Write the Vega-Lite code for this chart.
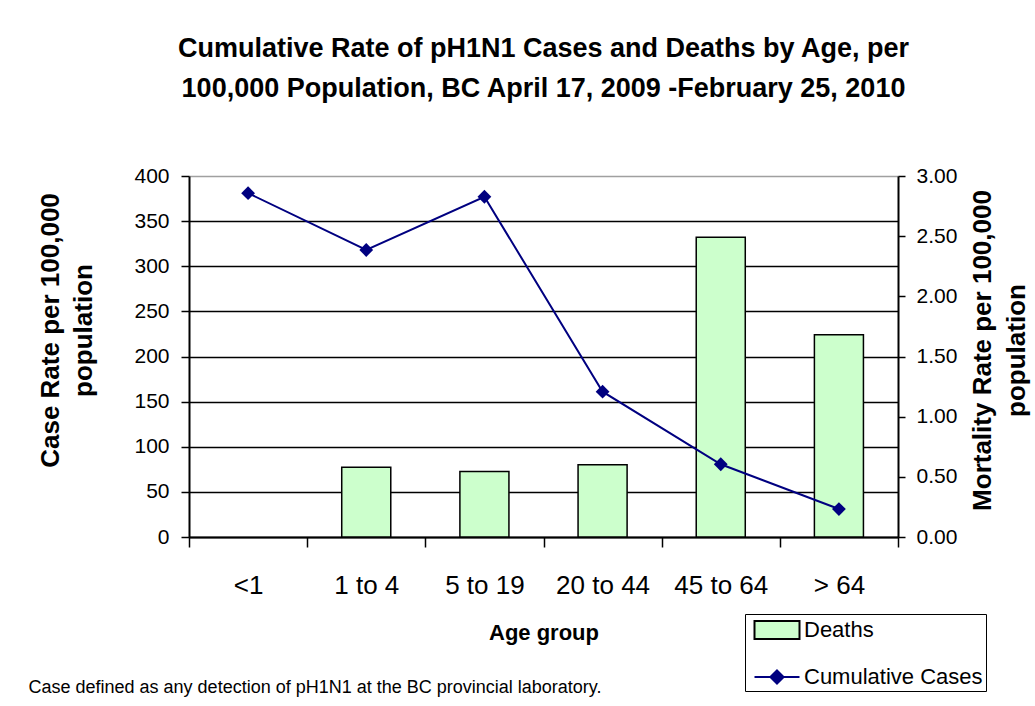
{
  "$schema": "https://vega.github.io/schema/vega-lite/v6.json",
  "width": 709,
  "height": 361,
  "autosize": {"type": "none"},
  "padding": {"left": 189, "top": 176, "right": 137, "bottom": 169},
  "background": "white",
  "title": {
    "text": ["Cumulative Rate of pH1N1 Cases and Deaths by Age, per", "100,000 Population, BC April 17, 2009 -February 25, 2010"],
    "font": "Liberation Sans",
    "fontSize": 27,
    "fontWeight": "bold",
    "lineHeight": 40,
    "color": "black",
    "anchor": "middle",
    "offset": 62
  },
  "data": {
    "values": [
      {"age": "<1", "cases": 381, "deaths": null},
      {"age": "1 to 4", "cases": 318, "deaths": 0.58},
      {"age": "5 to 19", "cases": 377, "deaths": 0.545},
      {"age": "20 to 44", "cases": 161, "deaths": 0.6},
      {"age": "45 to 64", "cases": 80.6, "deaths": 2.49},
      {"age": "> 64", "cases": 31, "deaths": 1.68}
    ]
  },
  "layer": [
    {
      "mark": {"type": "bar", "width": {"band": 0.415}, "fill": "#ccffcc", "stroke": "black", "strokeWidth": 1.5},
      "encoding": {
        "x": {
          "field": "age", "type": "nominal", "sort": null,
          "scale": {"domain": ["<1", "1 to 4", "5 to 19", "20 to 44", "45 to 64", "> 64"], "paddingInner": 0, "paddingOuter": 0},
          "axis": {
            "orient": "bottom", "labelAngle": 0, "labelFontSize": 26, "labelPadding": 25,
            "tickSize": 10, "tickWidth": 1.5, "tickBand": "extent", "domainWidth": 2,
            "title": "Age group", "titleFontSize": 22, "titleFontWeight": "bold",
            "titleY": 95, "titleBaseline": "middle"
          }
        },
        "y": {
          "field": "deaths", "type": "quantitative",
          "scale": {"domain": [0, 3], "nice": false, "zero": true},
          "axis": {
            "orient": "right", "values": [0, 0.5, 1, 1.5, 2, 2.5, 3], "format": ".2f",
            "grid": false, "labelFontSize": 21, "tickSize": 7, "labelPadding": 11, "domainWidth": 2, "tickWidth": 1.5,
            "title": ["Mortality Rate per 100,000", "population"], "titleFontSize": 26, "titleFontWeight": "bold",
            "titleAngle": -90, "titleX": 84, "titleY": 174, "titleBaseline": "middle", "titleAlign": "center", "titleLineHeight": 34
          }
        }
      }
    },
    {
      "mark": {"type": "line", "color": "#000080", "strokeWidth": 2, "point": {"shape": "diamond", "size": 190, "filled": true, "opacity": 1, "color": "#000080"}},
      "encoding": {
        "x": {
          "field": "age", "type": "nominal", "sort": null,
          "axis": {
            "orient": "bottom", "labels": false, "ticks": false, "domain": false, "grid": false,
            "title": "Case defined as any detection of pH1N1 at the BC provincial laboratory.",
            "titleFontSize": 18, "titleFontWeight": "normal", "titleAnchor": "start", "titleAlign": "left",
            "titleX": -161, "titleY": 150, "titleBaseline": "middle"
          }
        },
        "y": {
          "field": "cases", "type": "quantitative",
          "scale": {"domain": [0, 400], "nice": false},
          "axis": {
            "orient": "left", "values": [0, 50, 100, 150, 200, 250, 300, 350, 400],
            "grid": true, "gridColor": {"condition": {"test": "datum.value === 400", "value": "#a0a0a0"}, "value": "black"}, "gridWidth": 1.5,
            "labelFontSize": 21, "tickSize": 8, "labelPadding": 12, "domainWidth": 2, "tickWidth": 1.5,
            "title": ["Case Rate per 100,000", "population"], "titleFontSize": 26, "titleFontWeight": "bold",
            "titleAngle": -90, "titleX": -139, "titleY": 154, "titleBaseline": "middle", "titleAlign": "center", "titleLineHeight": 33
          }
        }
      }
    },
    {
      "mark": {"type": "point", "opacity": 0, "size": 10},
      "encoding": {
        "x": {"field": "age", "type": "nominal", "sort": null, "axis": null},
        "y": {"field": "cases", "type": "quantitative", "scale": {"domain": [0, 400], "nice": false}, "axis": null},
        "fill": {
          "datum": "Deaths", "type": "nominal",
          "scale": {"domain": ["Deaths", "Cumulative Cases"], "range": ["#ccffcc", "#000080"]},
          "legend": {"title": null, "orient": "none", "legendX": 556, "legendY": 438}
        },
        "stroke": {
          "datum": "Deaths", "type": "nominal",
          "scale": {"domain": ["Deaths", "Cumulative Cases"], "range": ["black", "#000080"]},
          "legend": {"title": null, "orient": "none", "legendX": 556, "legendY": 438}
        },
        "shape": {
          "datum": "Deaths", "type": "nominal",
          "scale": {"domain": ["Deaths", "Cumulative Cases"], "range": ["M-1.875,-0.75H1.875V0.75H-1.875Z", "M-1.875,0H1.875M0,-0.55L0.55,0L0,0.55L-0.55,0Z"]},
          "legend": {"title": null, "orient": "none", "legendX": 556, "legendY": 438}
        }
      }
    }
  ],
  "resolve": {"scale": {"y": "independent"}, "axis": {"x": "independent"}},
  "config": {
    "view": {"stroke": null},
    "font": "Liberation Sans",
    "axis": {
      "labelFont": "Liberation Sans", "titleFont": "Liberation Sans",
      "labelColor": "black", "titleColor": "black", "domainColor": "black", "tickColor": "black"
    },
    "legend": {
      "direction": "vertical",
      "strokeColor": "black", "fillColor": "white", "padding": 3,
      "labelFontSize": 22, "labelFont": "Liberation Sans", "labelColor": "black", "labelLimit": 400,
      "symbolSize": 576, "rowPadding": 21, "symbolOffset": 16, "labelOffset": 14,
      "symbolStrokeWidth": 2, "symbolOpacity": 1
    }
  }
}
